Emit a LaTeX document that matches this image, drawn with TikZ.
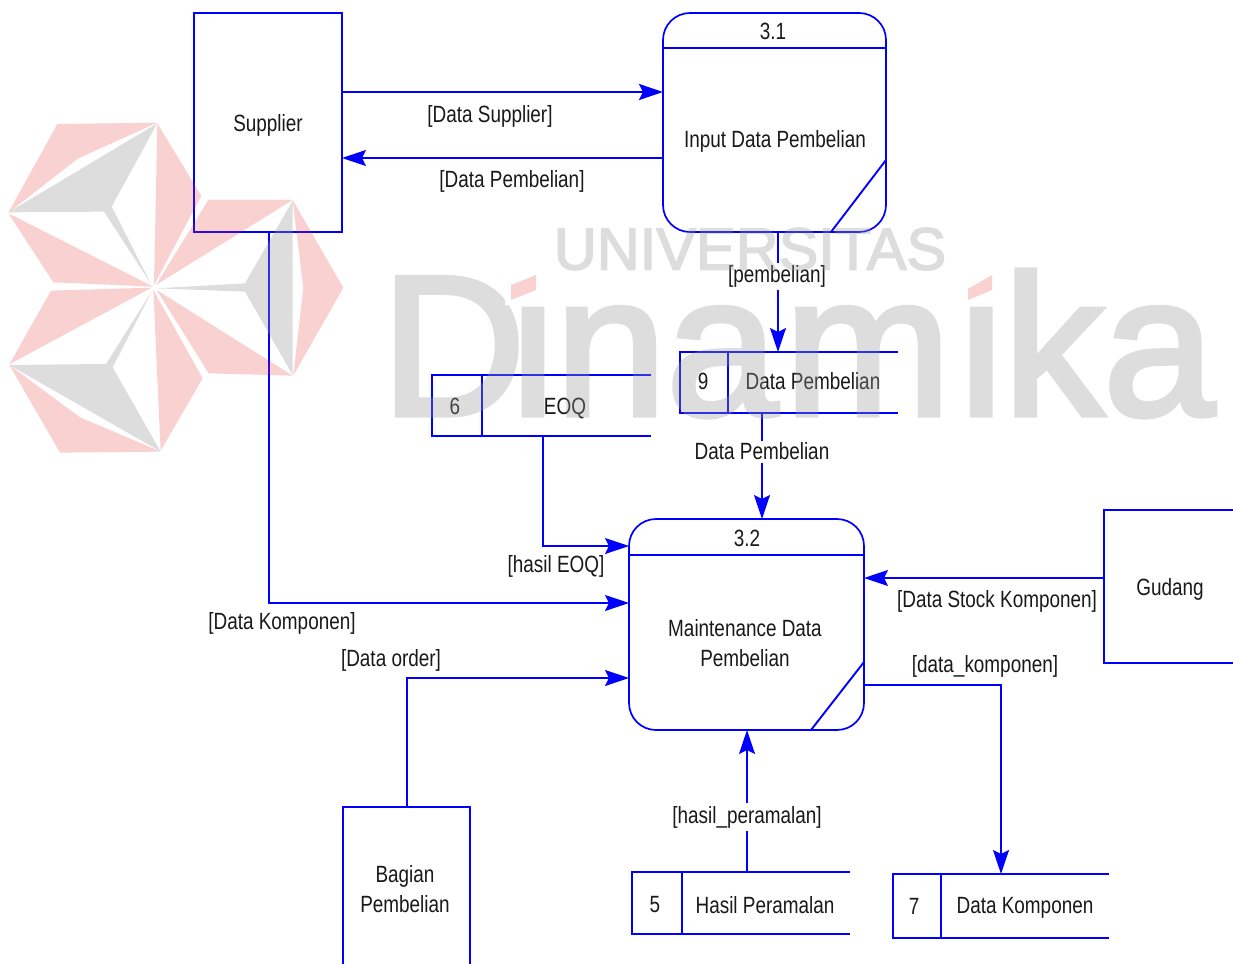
\documentclass[tikz,border=0pt]{standalone}
\usepackage{fontspec}
\setmainfont[FakeStretch=0.805]{Liberation Sans}
\newfontfamily\markfont[FakeBold=2.6]{Liberation Sans}
\usetikzlibrary{arrows.meta,calc}
\definecolor{flowblue}{RGB}{0,0,255}
\definecolor{markgray}{gray}{0.6}
\definecolor{markpink}{rgb}{0.9,0.18,0.18}
\tikzset{
	label text/.style={inner sep=0pt,align=center,text=black!90,yshift=-1.5pt,font=\fontsize{23.5}{30}\selectfont},
	boxed/.style={draw=flowblue,line width=1.7pt,inner sep=0pt,outer sep=0pt},
	process/.style={boxed,rounded corners=27pt},
	storeline/.style={draw=flowblue,line width=1.9pt},
	flow/.style={draw=flowblue,line width=1.9pt,-{Stealth[length=24pt,width=16pt,inset=4pt]}},
	plain flow/.style={draw=flowblue,line width=1.9pt},
	markgrey/.style={fill=markgray,opacity=0.33},
	markred/.style={fill=markpink,opacity=0.22}
}
\begin{document}
\begin{tikzpicture}[x=1pt,y=-1pt]
	\useasboundingbox (0,0) rectangle (1233,963);
	% entities
	\node[boxed,minimum width=148pt,minimum height=219pt] (supplier) at (268,122.5) {};
	\node[label text] (supplierText) at (268,124) {Supplier};
	\node[boxed,minimum width=132pt,minimum height=153pt] (gudang) at (1170,586.5) {};
	\node[label text] (gudangText) at (1170,588) {Gudang};
	\node[boxed,minimum width=127pt,minimum height=166pt] (bagian) at (406.5,890) {};
	\node[label text] (bagianText) at (405,888) {Bagian\\Pembelian};
	% processes
	\node[process,minimum width=223pt,minimum height=219pt] (inputProc) at (774.5,122.5) {};
	\draw[storeline] (inputProc.west |- 0,48) -- (inputProc.east |- 0,48);
	\draw[storeline] (inputProc.east |- 0,160) -- (831,232);
	\node[label text] (inputNo) at (773,29.5) {3.1};
	\node[label text] (inputText) at (775,140) {Input Data Pembelian};
	\node[process,minimum width=235pt,minimum height=211pt] (maintProc) at (746.5,624.5) {};
	\draw[storeline] (maintProc.west |- 0,555) -- (maintProc.east |- 0,555);
	\draw[storeline] (maintProc.east |- 0,662) -- (811,730);
	\node[label text] (maintNo) at (747,536.5) {3.2};
	\node[label text] (maintText) at (745,641.5) {Maintenance Data\\Pembelian};
	% data stores
	\node[boxed,minimum width=50pt,minimum height=61pt] (storeSix) at (457,405.5) {};
	\draw[storeline] (storeSix.north east) -- ++(169,0);
	\draw[storeline] (storeSix.south east) -- ++(169,0);
	\node[label text] (storeSixNo) at (455,404.5) {6};
	\node[label text] (storeSixText) at (565,407) {EOQ};
	\node[boxed,minimum width=48pt,minimum height=61pt] (storeNine) at (704,382.5) {};
	\draw[storeline] (storeNine.north east) -- ++(170,0);
	\draw[storeline] (storeNine.south east) -- ++(170,0);
	\node[label text] (storeNineNo) at (703,379.5) {9};
	\node[label text] (storeNineText) at (813,379.5) {Data Pembelian};
	\node[boxed,minimum width=50pt,minimum height=62pt] (storeFive) at (657,903) {};
	\draw[storeline] (storeFive.north east) -- ++(168,0);
	\draw[storeline] (storeFive.south east) -- ++(168,0);
	\node[label text] (storeFiveNo) at (655,903.5) {5};
	\node[label text] (storeFiveText) at (765,903.5) {Hasil Peramalan};
	\node[boxed,minimum width=48pt,minimum height=64pt] (storeSeven) at (917,906) {};
	\draw[storeline] (storeSeven.north east) -- ++(168,0);
	\draw[storeline] (storeSeven.south east) -- ++(168,0);
	\node[label text] (storeSevenNo) at (914,904.5) {7};
	\node[label text] (storeSevenText) at (1025,906) {Data Komponen};
	% labels
	\node[label text] (lblSupplier) at (490,115) {[Data Supplier]};
	\node[label text] (lblPembelian) at (512,180) {[Data Pembelian]};
	\node[label text] (lblBeli) at (777,275) {[pembelian]};
	\node[label text] (lblStoreOut) at (762,449.5) {Data Pembelian};
	\node[label text] (lblEoq) at (556,565) {[hasil EOQ]};
	\node[label text] (lblKomponen) at (282,622) {[Data Komponen]};
	\node[label text] (lblOrder) at (391,659) {[Data order]};
	\node[label text] (lblStock) at (997,600) {[Data Stock Komponen]};
	\node[label text] (lblKomp) at (985,665) {[data\_komponen]};
	\node[label text] (lblRamal) at (747,816) {[hasil\_peramalan]};
	% connectors
	\draw[flow,line width=2.5pt] (supplier.east |- 0,92) -- (inputProc.west |- 0,92);
	\draw[flow] (inputProc.west |- 0,158) -- (supplier.east |- 0,158);
	\draw[plain flow] (inputProc.south -| lblBeli.center) ++(1,0) -- ($(lblBeli.north)+(1,-2)$);
	\draw[flow] ($(lblBeli.south)+(1,2)$) -- (storeNine.north -| 778,0);
	\draw[plain flow] (storeNine.south -| lblStoreOut.north) -- ($(lblStoreOut.north)+(0,-1)$);
	\draw[flow] (lblStoreOut.south) ++(0,3) -- (maintProc.north -| lblStoreOut.south);
	\draw[flow] (storeSix.south -| 543,0) |- (maintProc.west |- 0,546);
	\draw[flow] (supplier.south -| 269,0) |- (maintProc.west |- 0,603);
	\draw[flow] (bagian.north -| 407,0) |- (maintProc.west |- 0,678);
	\draw[flow] (gudang.west |- 0,578) -- (maintProc.east |- 0,578);
	\draw[flow] (maintProc.east |- 0,685) -| (storeSeven.north -| 1001,0);
	\draw[plain flow] (storeFive.north -| lblRamal.south) -- ($(lblRamal.south)+(0,2)$);
	\draw[flow] ($(lblRamal.north)+(0,-3)$) -- (maintProc.south -| lblRamal.north);
	% watermark
	\begin{scope}[transparency group,opacity=0.33]
		\node[text=markgray,inner sep=0pt,anchor=base] (markMain) at (798,415) {\markfont\fontsize{200}{200}\selectfont D\kern-15pt ina\kern7pt m\kern8pt ika};
		\fill[white] (505,258) rectangle (552,305);
		\fill[white] (955,258) rectangle (1010,305);
		\node[text=markgray,inner sep=0pt] (markTop) at (750,249) {\markfont\fontsize{59.5}{60}\selectfont UNIVERSITAS};
	\end{scope}
	\fill[markred] (511,285) -- (536,275) -- (536,290) -- (511,300) -- cycle;
	\fill[markred] (968,289) -- (992,275) -- (992,290) -- (968,300) -- cycle;
	\begin{scope}[shift={(0,110)},x=0.3333pt,y=-0.3333pt]
		\fill[markred] (172,42) -- (472,38) -- (235,145) -- (25,308) -- cycle;
		\fill[markred] (25,310) -- (460,530) -- (160,517) -- cycle;
		\fill[markred] (472,40) -- (604,258) -- (462,525) -- cycle;
		\fill[markred] (625,270) -- (878,270) -- (468,525) -- (582,340) -- cycle;
		\fill[markred] (878,270) -- (1030,533) -- (880,797) -- (910,533) -- cycle;
		\fill[markred] (470,540) -- (878,797) -- (626,790) -- cycle;
		\fill[markred] (153,542) -- (455,533) -- (28,763) -- cycle;
		\fill[markred] (28,765) -- (240,922) -- (482,1025) -- (180,1028) -- cycle;
		\fill[markred] (460,540) -- (608,805) -- (482,1022) -- cycle;
		\fill[markgrey] (25,307) -- (472,40) -- (335,290) -- (455,525) -- (312,305) -- cycle;
		\fill[markgrey] (878,272) -- (878,795) -- (735,545) -- (470,535) -- (735,520) -- cycle;
		\fill[markgrey] (28,765) -- (318,762) -- (458,540) -- (338,772) -- (482,1025) -- cycle;
	\end{scope}
\end{tikzpicture}
\end{document}
